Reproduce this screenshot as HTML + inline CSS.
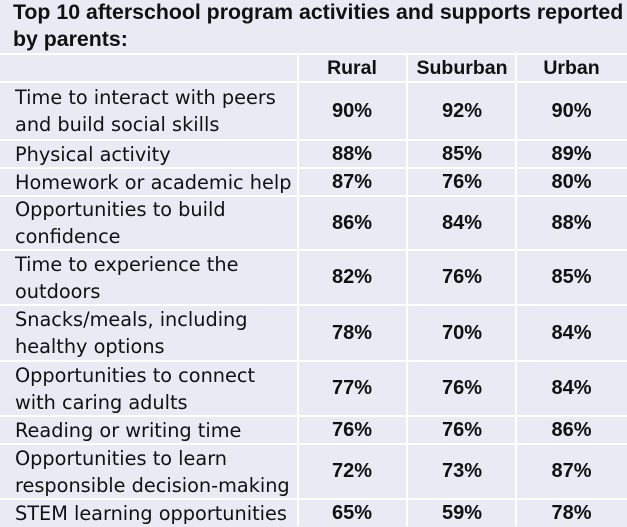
<!DOCTYPE html>
<html><head><meta charset="utf-8"><style>
html,body{margin:0;padding:0;}
body{width:627px;height:526px;background:#e9eaf3;position:relative;overflow:hidden;font-family:"Liberation Sans",Arial,sans-serif;color:#111;}
.title{position:absolute;left:13px;top:-1px;font-weight:bold;font-size:21.3px;line-height:27px;white-space:nowrap;}
.hl{position:absolute;left:0;width:627px;height:2px;background:#fff;}
.vl{position:absolute;top:53px;width:2px;height:473px;background:#fff;}
.row{position:absolute;left:0;width:627px;display:flex;align-items:center;}
.lab{position:absolute;left:15px;font-family:"DejaVu Sans","Liberation Sans",sans-serif;font-size:19.3px;line-height:27px;white-space:nowrap;}
.n{position:absolute;width:110px;text-align:center;font-weight:bold;font-size:20px;line-height:27px;}
.c1{left:297px}.c2{left:407px}.c3{left:516px;width:111px}
.hd{font-size:19.5px;}
</style></head><body>
<div class="title">Top 10 afterschool program activities and supports reported<br>by parents:</div>

<div class="hl" style="top:53px"></div>
<div class="hl" style="top:81px"></div>
<div class="hl" style="top:139px"></div>
<div class="hl" style="top:167px"></div>
<div class="hl" style="top:195px"></div>
<div class="hl" style="top:249px"></div>
<div class="hl" style="top:304px"></div>
<div class="hl" style="top:360px"></div>
<div class="hl" style="top:415px"></div>
<div class="hl" style="top:443px"></div>
<div class="hl" style="top:498px"></div>
<div class="vl" style="left:297px"></div>
<div class="vl" style="left:406px"></div>
<div class="vl" style="left:515px"></div>

<div class="row" style="top:55px;height:26px"><div class="n c1 hd">Rural</div><div class="n c2 hd">Suburban</div><div class="n c3 hd">Urban</div></div>

<div class="row" style="top:83px;height:56px"><div class="lab">Time to interact with peers<br>and build social skills</div><div class="n c1">90%</div><div class="n c2">92%</div><div class="n c3">90%</div></div>

<div class="row" style="top:141px;height:26px"><div class="lab">Physical activity</div><div class="n c1">88%</div><div class="n c2">85%</div><div class="n c3">89%</div></div>

<div class="row" style="top:169px;height:26px"><div class="lab">Homework or academic help</div><div class="n c1">87%</div><div class="n c2">76%</div><div class="n c3">80%</div></div>

<div class="row" style="top:197px;height:52px"><div class="lab">Opportunities to build<br>confidence</div><div class="n c1">86%</div><div class="n c2">84%</div><div class="n c3">88%</div></div>

<div class="row" style="top:251px;height:53px"><div class="lab">Time to experience the<br>outdoors</div><div class="n c1">82%</div><div class="n c2">76%</div><div class="n c3">85%</div></div>

<div class="row" style="top:306px;height:54px"><div class="lab">Snacks/meals, including<br>healthy options</div><div class="n c1">78%</div><div class="n c2">70%</div><div class="n c3">84%</div></div>

<div class="row" style="top:362px;height:53px"><div class="lab">Opportunities to connect<br>with caring adults</div><div class="n c1">77%</div><div class="n c2">76%</div><div class="n c3">84%</div></div>

<div class="row" style="top:417px;height:26px"><div class="lab">Reading or writing time</div><div class="n c1">76%</div><div class="n c2">76%</div><div class="n c3">86%</div></div>

<div class="row" style="top:445px;height:53px"><div class="lab">Opportunities to learn<br>responsible decision-making</div><div class="n c1">72%</div><div class="n c2">73%</div><div class="n c3">87%</div></div>

<div class="row" style="top:500px;height:26px"><div class="lab">STEM learning opportunities</div><div class="n c1">65%</div><div class="n c2">59%</div><div class="n c3">78%</div></div>
</body></html>
